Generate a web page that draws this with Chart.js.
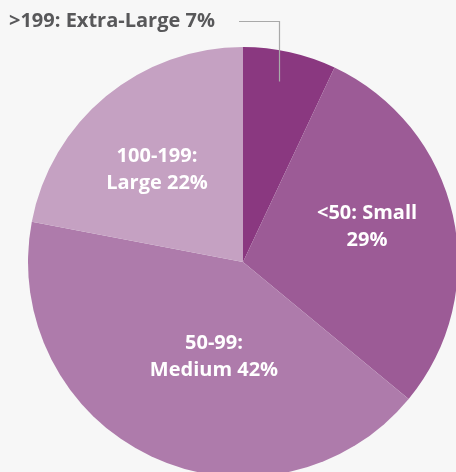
<!DOCTYPE html>
<html lang="en">
<head>
    <meta charset="UTF-8">
    <title>Company size breakdown</title>
    <script src="https://cdn.jsdelivr.net/npm/chart.js"></script>
    <style>
        html, body {
            margin: 0;
            padding: 0;
            background: #f7f7f7;
            overflow: hidden;
            width: 456px;
            height: 472px;
        }
        #sizeChart {
            position: absolute;
            left: 0;
            top: 0;
        }
    </style>
</head>
<body>
    <canvas id="sizeChart" width="463" height="482"></canvas>

    <script>
        // slices, clockwise from 12 o'clock
        const categories = ['>199: Extra-Large', '<50: Small', '50-99: Medium', '100-199: Large'];
        const shares = [7, 29, 42, 22];
        const labelLines = [
            ['>199: Extra-Large 7%'],
            ['<50: Small', '29%'],
            ['50-99:', 'Medium 42%'],
            ['100-199:', 'Large 22%']
        ];

        const sliceColors = ['#8a3880', '#9c5b96', '#ae7bab', '#c5a1c2'];
        const FONT = 'bold 20px "Open Sans", "Noto Sans", sans-serif';

        // label anchor, as fraction of radius from pie centre
        const labelPos = [null, [0.577, -0.165], [-0.135, 0.442], [-0.40, -0.428]];

        const sliceLabels = {
            id: 'sliceLabels',
            afterDatasetsDraw(chart) {
                const ctx = chart.ctx;
                const arc = chart.getDatasetMeta(0).data[0];
                const cx = arc.x, cy = arc.y, r = arc.outerRadius;
                ctx.save();
                ctx.font = FONT;
                ctx.textBaseline = 'middle';

                labelPos.forEach((p, i) => {
                    if (!p) return;
                    ctx.fillStyle = '#ffffff';
                    ctx.textAlign = 'center';
                    const lines = labelLines[i];
                    const x = cx + p[0] * r;
                    const y = cy + p[1] * r;
                    lines.forEach((t, k) => {
                        ctx.fillText(t, x, y + (k - (lines.length - 1) / 2) * 27);
                    });
                });

                // outside label for the small slice, with leader line
                ctx.fillStyle = '#58585a';
                ctx.textAlign = 'left';
                ctx.fillText(labelLines[0][0], 9, 21);

                ctx.strokeStyle = '#a9a9a9';
                ctx.lineWidth = 1.2;
                ctx.beginPath();
                ctx.moveTo(239, 21.5);
                ctx.lineTo(cx + 36.5, 21.5);
                ctx.lineTo(cx + 36.5, cy - 0.84 * r);
                ctx.stroke();
                ctx.restore();
            }
        };

        new Chart(document.getElementById('sizeChart'), {
            type: 'pie',
            data: {
                labels: categories,
                datasets: [{
                    data: shares,
                    backgroundColor: sliceColors,
                    borderWidth: 0
                }]
            },
            options: {
                responsive: false,
                animation: false,
                layout: { padding: { left: 28, top: 47, right: 5, bottom: 5 } },
                plugins: {
                    legend: { display: false },
                    tooltip: { enabled: false }
                }
            },
            plugins: [sliceLabels]
        });
    </script>
</body>
</html>
